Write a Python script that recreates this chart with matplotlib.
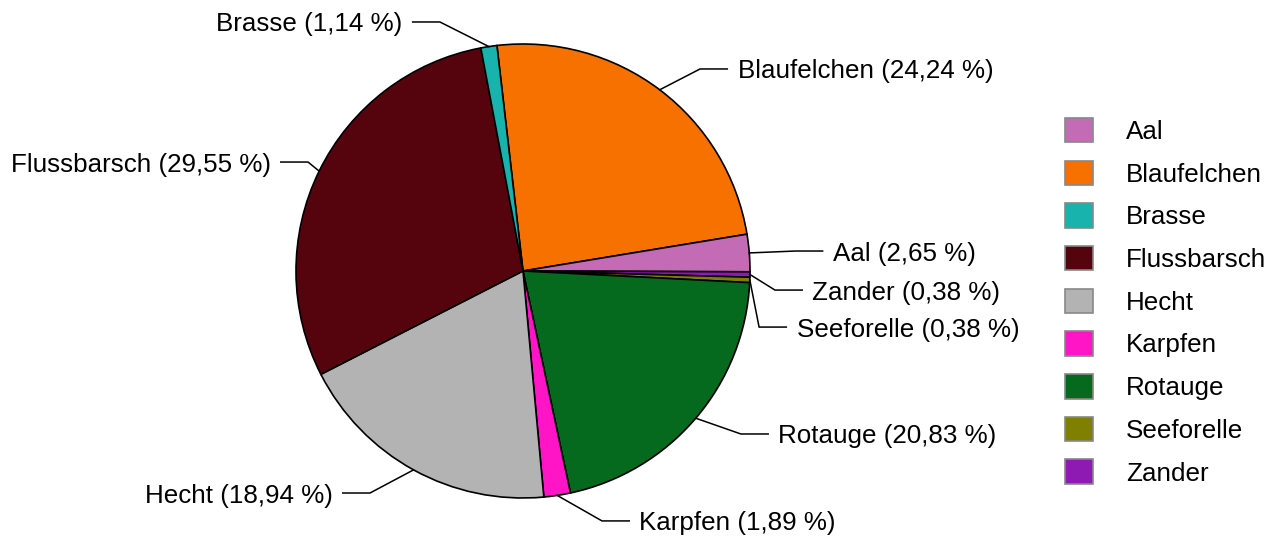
import matplotlib
matplotlib.use("Agg")
import matplotlib.pyplot as plt
from matplotlib.patches import Patch
import numpy as np

# Data (clockwise order as drawn)
species = ["Blaufelchen", "Aal", "Zander", "Seeforelle", "Rotauge",
           "Karpfen", "Hecht", "Flussbarsch", "Brasse"]
percent = [24.24, 2.65, 0.38, 0.38, 20.83, 1.89, 18.94, 29.55, 1.14]
colors = {"Aal": "#C36BB4", "Blaufelchen": "#F77100", "Brasse": "#19B3AE",
          "Flussbarsch": "#55040E", "Hecht": "#B3B3B3", "Karpfen": "#FF14C6",
          "Rotauge": "#066A1E", "Seeforelle": "#7F7F00", "Zander": "#8F19B3"}
legend_order = ["Aal", "Blaufelchen", "Brasse", "Flussbarsch", "Hecht",
                "Karpfen", "Rotauge", "Seeforelle", "Zander"]

# Label layout: elbow point (in pie-radius units) and side
elbows = {"Blaufelchen": (0.78, 0.89, 1), "Aal": (1.20, 0.088, 1),
          "Zander": (1.11, -0.084, 1), "Seeforelle": (1.04, -0.247, 1),
          "Rotauge": (0.96, -0.718, 1), "Karpfen": (0.348, -1.101, 1),
          "Hecht": (-0.674, -0.978, -1), "Flussbarsch": (-0.947, 0.48, -1),
          "Brasse": (-0.366, 1.097, -1)}

plt.rcParams['font.family'] = ['Liberation Sans', 'DejaVu Sans']
FS = 18.7

fig = plt.figure(figsize=(12.7, 5.37), dpi=100)
ax = fig.add_axes([0, 0, 1, 1])
cx_px, cy_px, R_px = 523, 271, 227

wedges, _ = ax.pie(percent, colors=[colors[s] for s in species],
                   startangle=96.6, counterclock=False, radius=1.0,
                   wedgeprops=dict(edgecolor="black", linewidth=1.2))
ax.set_aspect("auto")
ax.set_xlim(-cx_px / R_px, (1270 - cx_px) / R_px)
ax.set_ylim(-(537 - cy_px) / R_px, cy_px / R_px)
ax.axis("off")

for w, name, p in zip(wedges, species, percent):
    mid = np.deg2rad((w.theta1 + w.theta2) / 2)
    ex, ey = np.cos(mid), np.sin(mid)
    bx, by, side = elbows[name]
    hx = bx + side * 0.12
    ax.plot([ex, bx, hx], [ey, by, by], color="black", lw=1.1,
            solid_joinstyle="miter")
    label = f"{name} ({p:.2f} %)".replace(".", ",")
    ax.text(hx + side * 0.045, by, label, fontsize=FS,
            ha="left" if side > 0 else "right", va="center_baseline")

handles = [Patch(facecolor=colors[s], edgecolor="#888888", linewidth=1.2)
           for s in legend_order]
leg = ax.legend(handles, legend_order, loc="upper left",
                bbox_to_anchor=(1065 / 1270, 1 - 118 / 537),
                frameon=False, fontsize=FS, handlelength=1.07,
                handleheight=1.07, labelspacing=0.64, handletextpad=1.28,
                borderaxespad=0, borderpad=0)

fig.savefig("out.png", dpi=100)
